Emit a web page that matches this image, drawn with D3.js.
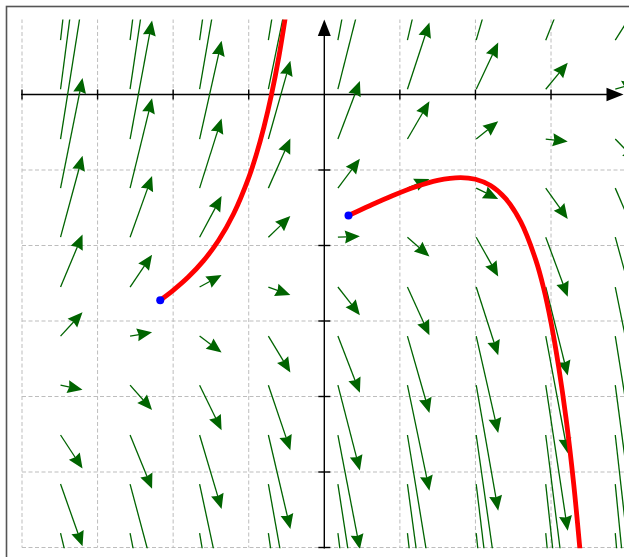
<!DOCTYPE html>
<html>
<head>
<meta charset="utf-8">
<script src="https://cdn.jsdelivr.net/npm/d3@7"></script>
<style>
html,body{margin:0;padding:0;background:#fff;}
svg{display:block;}
</style>
</head>
<body>
<svg id="chart" width="629" height="557"></svg>
<script>
// ---- data ----
const xTicks = [-4, -3, -2, -1, 1, 2, 3];
const yTicks = [-6, -5, -4, -3, -2, -1];
const xGrid = [-4, -3, -2, -1, 1, 2, 3, 4];
const yGrid = [-6, -5, -4, -3, -2, -1];

// tails of the field arrows
const fieldX = [-3.49, -2.57, -1.65, -0.74, 0.18, 1.10, 2.01, 2.93, 3.85];
const fieldY = [0.72, 0.07, -0.59, -1.24, -1.89, -2.55, -3.20, -3.85, -4.51, -5.16, -5.81];
// slope dy/dx at each tail, one row per fieldY value
const fieldSlope = [
  [8.93, 8.01, 7.09, 6.18, 5.26, 4.34, 3.43, 2.51, 1.59],
  [7.63, 6.71, 5.79, 4.88, 3.96, 3.04, 2.13, 1.21, 0.29],
  [6.31, 5.39, 4.47, 3.56, 2.64, 1.72, 0.81, -0.11, -1.03],
  [5.01, 4.09, 3.17, 2.26, 1.34, 0.42, -0.49, -1.41, -2.33],
  [3.71, 2.79, 1.87, 0.96, 0.04, -0.88, -1.79, -2.71, -3.63],
  [2.39, 1.47, 0.55, -0.36, -1.28, -2.20, -3.11, -4.03, -4.95],
  [1.09, 0.17, -0.75, -1.66, -2.58, -3.50, -4.41, -5.33, -6.25],
  [-0.21, -1.13, -2.05, -2.96, -3.88, -4.80, -5.71, -6.63, -7.55],
  [-1.53, -2.45, -3.37, -4.28, -5.20, -6.12, -7.03, -7.95, -8.87],
  [-2.83, -3.75, -4.67, -5.58, -6.50, -7.42, -8.33, -9.25, -10.17],
  [-4.13, -5.05, -5.97, -6.88, -7.80, -8.72, -9.63, -10.55, -11.47]
];

// solution curves (red), starting at the blue points
const curve1X = [-2.171, -2.0, -1.8, -1.6, -1.4, -1.2, -1.0, -0.9, -0.8, -0.7, -0.6, -0.5];
const curve1Y = [-2.725, -2.594, -2.418, -2.204, -1.934, -1.580, -1.101, -0.797, -0.436, -0.006, 0.507, 1.123];
const curve2X = [0.32, 0.6, 0.9, 1.2, 1.5, 1.8, 2.0, 2.2, 2.4, 2.6, 2.8, 2.9, 3.0, 3.1, 3.2, 3.3, 3.4];
const curve2Y = [-1.603, -1.473, -1.341, -1.225, -1.137, -1.10, -1.123, -1.206, -1.38, -1.688, -2.197, -2.556, -3.02, -3.60, -4.30, -5.16, -6.22];

// ---- drawing ----
const svg = d3.select("#chart");
const x = d3.scaleLinear().domain([-4, 4]).range([22, 626.6]);
const y = d3.scaleLinear().domain([-6, 1]).range([547.5, 19]);

const arrowRun = 0.291;   // horizontal run of each field arrow, in x units
const green = "#006400";

// frame
svg.append("rect").attr("x", 6.5).attr("y", 6.5).attr("width", 640).attr("height", 570)
  .attr("fill", "none").attr("stroke", "#555").attr("stroke-width", 1.6);

const defs = svg.append("defs");
defs.append("clipPath").attr("id", "plotclip").append("rect")
  .attr("x", 21).attr("y", 19.5).attr("width", 603).attr("height", 528.8);

// grid
const grid = svg.append("g").attr("stroke", "#bdbdbd").attr("stroke-width", 1)
  .attr("stroke-dasharray", "4,2.5").attr("clip-path", "url(#plotclip)");
grid.selectAll("line.v").data(xGrid).join("line").attr("class", "v")
  .attr("x1", d => x(d)).attr("x2", d => x(d)).attr("y1", y(1)).attr("y2", y(-6));
grid.selectAll("line.h").data(yGrid).join("line").attr("class", "h")
  .attr("x1", x(-4)).attr("x2", x(4)).attr("y1", d => y(d)).attr("y2", d => y(d));

// axes
const ax = svg.append("g").attr("stroke", "#000").attr("stroke-width", 1.4);
ax.append("line").attr("x1", x(-4) - 1).attr("x2", 608).attr("y1", y(0)).attr("y2", y(0));
ax.append("line").attr("x1", x(0)).attr("x2", x(0)).attr("y1", y(-6) + 1).attr("y2", 35);
svg.append("path").attr("fill", "#000")
  .attr("d", `M${623.5},${y(0)} L${606.5},${y(0) - 6.7} L${606.5},${y(0) + 6.7} Z`);
svg.append("path").attr("fill", "#000")
  .attr("d", `M${x(0)},${19.5} L${x(0) - 6.5},${36} L${x(0) + 6.5},${36} Z`);
ax.selectAll("line.xt").data(xTicks).join("line").attr("class", "xt")
  .attr("x1", d => x(d)).attr("x2", d => x(d)).attr("y1", y(0) - 5).attr("y2", y(0) + 5);
ax.selectAll("line.yt").data(yTicks).join("line").attr("class", "yt")
  .attr("x1", x(0) - 6).attr("x2", x(0) + 6).attr("y1", d => y(d)).attr("y2", d => y(d));

// field arrows
const field = [];
fieldY.forEach((yy, i) => fieldX.forEach((xx, j) => field.push({ x: xx, y: yy, s: fieldSlope[i][j] })));

const fg = svg.append("g").attr("clip-path", "url(#plotclip)");
const hl = 15, hw = 6.5, notch = 1.5;
field.forEach(d => {
  const x0 = x(d.x), y0 = y(d.y);
  const x1 = x(d.x + arrowRun), y1 = y(d.y + arrowRun * d.s);
  const dx = x1 - x0, dy = y1 - y0;
  const L = Math.hypot(dx, dy);
  const ux = dx / L, uy = dy / L, nx = -uy, ny = ux;
  const h = Math.min(hl, L * 0.8), w = hw * h / hl;
  const bx = x1 - ux * h, by = y1 - uy * h;
  fg.append("line").attr("x1", x0).attr("y1", y0)
    .attr("x2", x1 - ux * (h - 2)).attr("y2", y1 - uy * (h - 2))
    .attr("stroke", green).attr("stroke-width", 1.3);
  const nxp = x1 - ux * (h - notch), nyp = y1 - uy * (h - notch);
  fg.append("path").attr("fill", green)
    .attr("d", `M${x1},${y1} L${bx + nx * w},${by + ny * w} L${nxp},${nyp} L${bx - nx * w},${by - ny * w} Z`);
});

// solution curves
const line = d3.line().x(d => x(d[0])).y(d => y(d[1])).curve(d3.curveCatmullRom);
const cg = svg.append("g").attr("clip-path", "url(#plotclip)");
[[curve1X, curve1Y], [curve2X, curve2Y]].forEach(([cx, cy]) => {
  cg.append("path").datum(cx.map((v, i) => [v, cy[i]]))
    .attr("d", line).attr("fill", "none").attr("stroke", "#ff0000")
    .attr("stroke-width", 4.8).attr("stroke-linecap", "round").attr("stroke-linejoin", "round");
});
svg.selectAll("circle.start").data([[curve1X[0], curve1Y[0]], [curve2X[0], curve2Y[0]]]).join("circle")
  .attr("class", "start").attr("cx", d => x(d[0])).attr("cy", d => y(d[1])).attr("r", 4)
  .attr("fill", "#0000ff");
</script>
</body>
</html>
